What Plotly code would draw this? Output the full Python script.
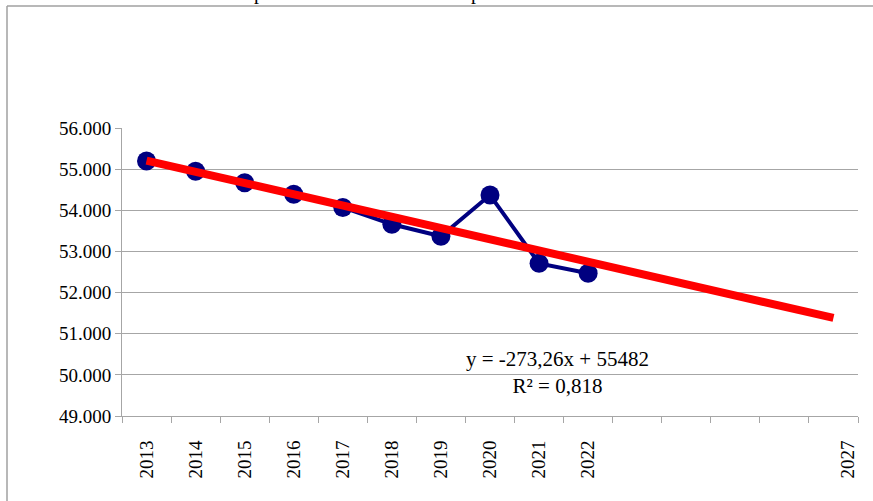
import plotly.graph_objects as go

# ---- data ----
categories = ["2013", "2014", "2015", "2016", "2017", "2018", "2019", "2020", "2021", "2022",
              "", "", "", "", "2027"]
values = [55200, 54950, 54670, 54390, 54070, 53660, 53370, 54370, 52710, 52470]
trend_slope = -273.26
trend_intercept = 55482
equation_text = "y = -273,26x + 55482<br>R² = 0,818"
y_tick_vals = [49000, 50000, 51000, 52000, 53000, 54000, 55000, 56000]

n_cat = len(categories)
x_data = list(range(1, len(values) + 1))
x_trend = list(range(1, n_cat + 1))
y_trend = [trend_intercept + trend_slope * x for x in x_trend]

FONT = "Liberation Serif, Times New Roman, serif"
GRID = "#a6a6a6"

# plot-area pixel geometry (for placing frame / annotations)
W, H = 873, 501
L, R, T, B = 122, 15, 128, 85
pw, ph = W - L - R, H - T - B


def px_x(p):
    return (p - L) / pw


def px_y(p):
    return (H - B - p) / ph


fig = go.Figure()
fig.add_trace(go.Scatter(
    x=x_data, y=values, mode="lines+markers",
    line=dict(color="#000080", width=4),
    marker=dict(color="#000080", size=19),
    showlegend=False, cliponaxis=False,
))
fig.add_trace(go.Scatter(
    x=x_trend, y=y_trend, mode="lines",
    line=dict(color="#ff0000", width=8),
    showlegend=False,
))

tickvals = [i + 1 for i, c in enumerate(categories) if c]
ticktext = [c for c in categories if c]
tickvals = [v + (0.3 if v == n_cat else 0) for v in tickvals]

fig.update_layout(
    # initial size fits inside the default 8px body margin (no scrollbars);
    # post_script removes the margin and sizes the figure to the full window
    width=W - 18, height=H - 18,
    margin=dict(l=L, r=R, t=T, b=B),
    paper_bgcolor="white", plot_bgcolor="white",
    separators=",.",
    font=dict(family=FONT, size=19, color="black"),
    xaxis=dict(
        range=[0.5, n_cat + 0.5],
        tickmode="array", tickvals=tickvals, ticktext=ticktext,
        tickangle=-90, ticks="", showgrid=False, zeroline=False,
        showline=True, linecolor=GRID, linewidth=1,
        ticklabelstandoff=16,
        minor=dict(tickmode="array", tickvals=[i + 0.5 for i in range(n_cat + 1)],
                   ticks="outside", ticklen=6, tickcolor=GRID, tickwidth=1, showgrid=False),
        tickfont=dict(family=FONT, size=19),
    ),
    yaxis=dict(
        range=[49000, 56000],
        tickmode="array", tickvals=y_tick_vals, tickformat=",d",
        ticks="outside", ticklen=6, tickcolor=GRID,
        showgrid=True, gridcolor=GRID, gridwidth=1,
        showline=True, linecolor=GRID, linewidth=1, zeroline=False,
        tickfont=dict(family=FONT, size=19),
    ),
    shapes=[
        dict(type="line", xref="paper", yref="paper",
             x0=px_x(7), x1=px_x(7), y0=px_y(6), y1=px_y(520),
             line=dict(color="#a0a0a0", width=1.5)),
        dict(type="line", xref="paper", yref="paper",
             x0=px_x(7), x1=px_x(880), y0=px_y(6), y1=px_y(6),
             line=dict(color="#a0a0a0", width=1.5)),
    ],
    annotations=[
        dict(text=equation_text, xref="paper", yref="paper",
             x=px_x(557), y=px_y(372), xanchor="center", yanchor="middle",
             showarrow=False, align="center",
             font=dict(family=FONT, size=21, color="black")),
        dict(text="p", xref="paper", yref="paper", x=px_x(259), y=px_y(6),
             xanchor="center", yanchor="bottom", showarrow=False,
             font=dict(family=FONT, size=20, color="black")),
        dict(text="p", xref="paper", yref="paper", x=px_x(476), y=px_y(6),
             xanchor="center", yanchor="bottom", showarrow=False,
             font=dict(family=FONT, size=20, color="black")),
    ],
)

fig.write_html(
    "out.html",
    config={"displayModeBar": False},
    post_script=(
        "document.documentElement.style.overflow='hidden';"
        "document.body.style.margin='0';"
        "document.body.style.overflow='hidden';"
        "var gd=document.getElementById('{plot_id}');"
        "gd.style.width='%dpx';gd.style.height='%dpx';"
        "Plotly.relayout(gd,{width:%d,height:%d});" % (W, H, W, H)
    ),
)
